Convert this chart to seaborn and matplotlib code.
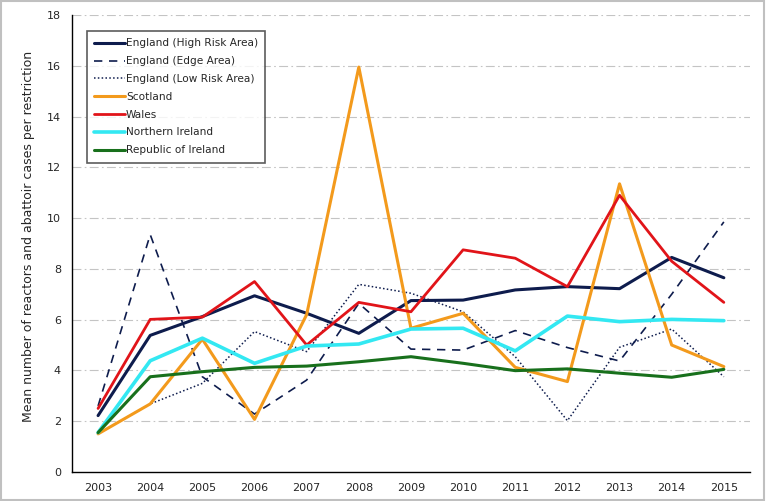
import pandas as pd
import seaborn as sns
import matplotlib
matplotlib.use('Agg')
import matplotlib.pyplot as plt

years = list(range(2003, 2016))
high_risk = [2.22, 5.38, 6.12, 6.94, 6.25, 5.46, 6.75, 6.77, 7.17, 7.30, 7.22, 8.45, 7.65]
edge_area = [2.60, 9.35, 3.75, 2.28, 3.62, 6.64, 4.84, 4.80, 5.57, 4.90, 4.37, 7.00, 9.85]
low_risk = [1.50, 2.68, 3.49, 5.53, 4.74, 7.39, 7.04, 6.31, 4.54, 2.02, 4.91, 5.63, 3.75]
scotland = [1.50, 2.68, 5.23, 2.07, 6.20, 15.95, 5.66, 6.25, 4.12, 3.56, 11.35, 5.00, 4.15]
wales = [2.50, 6.01, 6.10, 7.50, 5.00, 6.68, 6.31, 8.75, 8.42, 7.30, 10.90, 8.30, 6.68]
n_ireland = [1.55, 4.38, 5.27, 4.28, 4.96, 5.04, 5.63, 5.66, 4.77, 6.14, 5.92, 6.01, 5.96]
r_ireland = [1.55, 3.75, 3.95, 4.12, 4.17, 4.34, 4.54, 4.28, 3.99, 4.06, 3.89, 3.73, 4.04]

series = [
    ('England (High Risk Area)', high_risk, '#0e1c4d', '-', 2.2),
    ('England (Edge Area)', edge_area, '#0e1c4d', (0, (5, 4)), 1.2),
    ('England (Low Risk Area)', low_risk, '#0e1c4d', (0, (1, 1.5)), 1.1),
    ('Scotland', scotland, '#f39a1c', '-', 2.2),
    ('Wales', wales, '#e11419', '-', 2.0),
    ('Northern Ireland', n_ireland, '#33e8f2', '-', 2.6),
    ('Republic of Ireland', r_ireland, '#18701c', '-', 2.2),
]

sns.set_style('white')
plt.rcParams['font.family'] = ['DejaVu Sans']
fig = plt.figure(figsize=(7.66, 5.01), dpi=100)
ax = fig.add_axes([0.094, 0.058, 0.885, 0.912])

for name, vals, color, ls, lw in series:
    df = pd.DataFrame({'year': years, 'value': vals})
    sns.lineplot(data=df, x='year', y='value', ax=ax, color=color,
                 linestyle=ls, linewidth=lw, label=name)

ax.set_xlim(2002.5, 2015.5)
ax.set_ylim(0, 18)
ax.set_xticks(years)
ax.set_xticklabels([str(y) for y in years], fontsize=8)
ax.set_yticks(range(0, 19, 2))
ax.set_yticklabels([str(v) for v in range(0, 19, 2)], fontsize=8)
ax.tick_params(axis='both', length=0, pad=8)
ax.set_xlabel('')
ax.set_ylabel('Mean number of reactors and abattoir cases per restriction', fontsize=9.0)
ax.yaxis.set_label_coords(-0.055, 0.516)

for v in range(2, 19, 2):
    ax.axhline(v, color='#c4c4c4', linestyle=(0, (8, 3, 1.5, 3)), linewidth=0.8, zorder=0)

for s in ['top', 'right']:
    ax.spines[s].set_visible(False)
ax.spines['left'].set_color('black')
ax.spines['bottom'].set_color('black')
ax.spines['left'].set_linewidth(1.0)
ax.spines['bottom'].set_linewidth(1.0)

leg = ax.legend(loc='upper left', bbox_to_anchor=(0.022, 0.965), fontsize=7.6,
                frameon=True, fancybox=False, handlelength=2.9, handletextpad=0.1,
                labelspacing=0.74, borderpad=0.7, borderaxespad=0)
leg.get_frame().set_edgecolor('#333333')
leg.get_frame().set_linewidth(1.2)

fig.patches.append(plt.Rectangle((0.001, 0.001), 0.997, 0.997, transform=fig.transFigure,
                                 fill=False, edgecolor='#c0c0c0', linewidth=1.5))

fig.savefig('out.png', dpi=100)
